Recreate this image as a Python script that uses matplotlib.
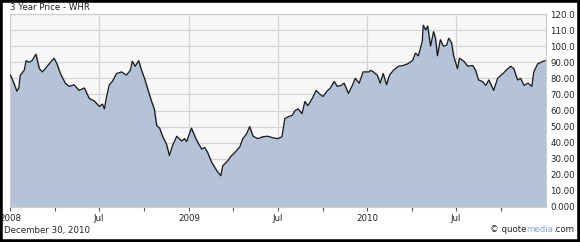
import pandas as pd
import matplotlib
matplotlib.use('Agg')
import matplotlib.pyplot as plt
import matplotlib.dates as mdates
from matplotlib.patches import Rectangle
from matplotlib.ticker import FixedLocator, FuncFormatter

# WHR closing price
dates = ['2008-01-02', '2008-01-09', '2008-01-15', '2008-01-19', '2008-01-22', '2008-01-30',
         '2008-02-03', '2008-02-09', '2008-02-15', '2008-02-23', '2008-03-01', '2008-03-07',
         '2008-03-13', '2008-03-21', '2008-03-31', '2008-04-06', '2008-04-13', '2008-04-23',
         '2008-05-01', '2008-05-11', '2008-05-21', '2008-06-01', '2008-06-11', '2008-06-21',
         '2008-07-02', '2008-07-08', '2008-07-12', '2008-07-16', '2008-07-22', '2008-07-28',
         '2008-08-06', '2008-08-16', '2008-08-26', '2008-09-03', '2008-09-07', '2008-09-13',
         '2008-09-20', '2008-09-26', '2008-10-02', '2008-10-10', '2008-10-16', '2008-10-22',
         '2008-10-27', '2008-11-02', '2008-11-08', '2008-11-16', '2008-11-22', '2008-11-28',
         '2008-12-07', '2008-12-17', '2008-12-23', '2008-12-27', '2009-01-06', '2009-01-15',
         '2009-01-21', '2009-01-27', '2009-02-02', '2009-02-08', '2009-02-16', '2009-02-27',
         '2009-03-07', '2009-03-11', '2009-03-21', '2009-03-29', '2009-04-05', '2009-04-15',
         '2009-04-21', '2009-04-29', '2009-05-05', '2009-05-12', '2009-05-22', '2009-06-01',
         '2009-06-11', '2009-06-22', '2009-07-02', '2009-07-10', '2009-07-16', '2009-07-22',
         '2009-07-31', '2009-08-06', '2009-08-12', '2009-08-20', '2009-08-26', '2009-09-01',
         '2009-09-10', '2009-09-18', '2009-09-24', '2009-10-02', '2009-10-10', '2009-10-17',
         '2009-10-25', '2009-10-31', '2009-11-08', '2009-11-14', '2009-11-23', '2009-12-01',
         '2009-12-07', '2009-12-15', '2009-12-23', '2010-01-04', '2010-01-07', '2010-01-13',
         '2010-01-21', '2010-01-27', '2010-02-02', '2010-02-09', '2010-02-15', '2010-02-23',
         '2010-03-05', '2010-03-15', '2010-03-24', '2010-04-03', '2010-04-09', '2010-04-15',
         '2010-04-23', '2010-04-25', '2010-04-30', '2010-05-04', '2010-05-10', '2010-05-16',
         '2010-05-20', '2010-05-24', '2010-05-30', '2010-06-05', '2010-06-12', '2010-06-16',
         '2010-06-22', '2010-06-26', '2010-07-04', '2010-07-08', '2010-07-17', '2010-07-25',
         '2010-08-04', '2010-08-10', '2010-08-16', '2010-08-24', '2010-08-31', '2010-09-06',
         '2010-09-16', '2010-09-24', '2010-10-05', '2010-10-15', '2010-10-21', '2010-10-27',
         '2010-11-04', '2010-11-10', '2010-11-17', '2010-11-25', '2010-12-03', '2010-12-07',
         '2010-12-15', '2010-12-26', '2010-12-30']
prices = [82, 77, 72, 74, 82, 85,
          91, 90, 91, 95, 86, 84,
          86, 89, 92.5, 89, 83, 77,
          75, 76, 72.5, 74, 67.5, 66,
          62.5, 64, 61, 68, 76, 78,
          83, 84, 82, 85, 90.6, 87.5,
          91, 85, 80, 72, 66, 61,
          50.6, 49, 44, 39, 32, 38,
          44, 41, 42.5, 40.6, 49, 42.5,
          39, 36, 37, 34, 28, 22.5,
          19.4, 25.6, 28.7, 32, 34, 37.5,
          42.5, 45.6, 50, 44, 42.5, 43.7,
          44, 43, 42.5, 43.7, 55, 56,
          57, 60, 61, 58, 65.6, 63,
          67.5, 72.5, 70.6, 68.7, 72, 74,
          78, 75, 75.6, 77, 70.6, 75.6,
          80, 77, 84, 84, 85, 84,
          82, 77, 83, 76, 82, 85,
          87.5, 88, 89, 91, 95.6, 94,
          103, 113, 110, 112.5, 100, 109,
          105, 94, 104, 100, 100.6, 105,
          102, 94, 86, 92.5, 90.6, 87.5,
          88, 85, 79, 78, 75.6, 79,
          72.5, 80, 83, 86, 87.5, 86,
          79, 80, 75.6, 77, 75, 84,
          89, 90.6, 91]

y_ticks = [0, 10, 20, 30, 40, 50, 60, 70, 80, 90, 100, 110, 120]
x_ticks = ['2008-01-01', '2008-07-01', '2009-01-01', '2009-07-01', '2010-01-01', '2010-07-01']
x_tick_labels = ['2008', 'Jul', '2009', 'Jul', '2010', 'Jul']
x_minor = ['2008-04-01', '2008-10-01', '2009-04-01', '2009-10-01', '2010-04-01', '2010-10-01']

df = pd.DataFrame({'date': pd.to_datetime(dates), 'price': prices})

W, H = 580, 242
FS = 6.2
fig = plt.figure(figsize=(W / 100, H / 100), dpi=100)
fig.patch.set_facecolor('white')

# plot box in pixels: x 10..546, y 14..207
ax = fig.add_axes([10 / W, (H - 207) / H, 536 / W, 193 / H])
ax.set_facecolor('#f7f7f7')

ax.fill_between(df['date'], df['price'], 0, color='#b4c3d7', zorder=2)
ax.plot(df['date'], df['price'], color='#1a1a1a', linewidth=0.9, zorder=3)

ax.set_xlim(pd.Timestamp('2008-01-01'), pd.Timestamp('2011-01-01'))
ax.set_ylim(0, 120)

# y axis on the right, 4 significant digits like the original
ax.yaxis.tick_right()
ax.yaxis.set_major_locator(FixedLocator(y_ticks))
def fmt(v, pos):
    if v == 0:
        return '0.000'
    if v >= 100:
        return '%.1f' % v
    return '%.2f' % v
ax.yaxis.set_major_formatter(FuncFormatter(fmt))
ax.tick_params(axis='y', length=0, pad=3, labelsize=FS, labelcolor='#222222')

xt = [mdates.date2num(pd.Timestamp(d)) for d in x_ticks]
ax.set_xticks(xt)
ax.set_xticklabels(x_tick_labels)
ax.set_xticks([mdates.date2num(pd.Timestamp(d)) for d in x_minor], minor=True)
ax.tick_params(axis='x', which='both', direction='out', length=3, width=0.8,
               color='#555555', labelsize=FS, labelcolor='#222222', pad=2)

ax.grid(True, axis='y', color='#d4d4d4', linewidth=0.9, zorder=1)
ax.grid(True, axis='x', which='major', color='#d4d4d4', linewidth=0.9, zorder=1)
ax.set_axisbelow(True)

for s in ax.spines.values():
    s.set_color('#cccccc')
    s.set_linewidth(0.8)

fig.text(10 / W, 1 - 7 / H, '3 Year Price - WHR', fontsize=FS, color='#222222',
         ha='left', va='center')
fig.text(4 / W, 1 - 230 / H, 'December 30, 2010', fontsize=FS, color='#222222',
         ha='left', va='center')

# "© quotemedia.com" with "media" in blue, laid out piece by piece
fig.canvas.draw()
x = 490
for piece, col in [('\u00a9 quote', '#222222'), ('media', '#7fa7d9'), ('.com', '#222222')]:
    t = fig.text(x / W, 1 - 230 / H, piece, fontsize=FS, color=col, ha='left', va='center')
    fig.canvas.draw()
    x = t.get_window_extent().x1

# black frame round the image
fig.patches.append(Rectangle((0, 0), 1, 1, transform=fig.transFigure, fill=False,
                             edgecolor='black', linewidth=4))

fig.savefig('out.png', dpi=100)
